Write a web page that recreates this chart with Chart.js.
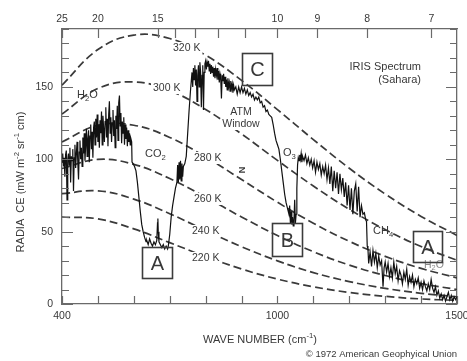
<!DOCTYPE html>
<html>
<head>
<meta charset="utf-8">
<script src="https://cdn.jsdelivr.net/npm/chart.js@4.4.1/dist/chart.umd.min.js"></script>
<style>
  html, body { margin: 0; padding: 0; background: #fff; }
  canvas { display: block; }
</style>
</head>
<body>
<canvas id="chart" width="467" height="361"></canvas>
<script>
// ---- Data -------------------------------------------------------------
// Wave numbers (cm^-1) of the blackbody reference curves
const planckWaveNumber = [400, 500, 600, 700, 800, 900, 1000, 1100, 1200, 1300, 1400, 1500];
// Blackbody radiance (mW m^-2 sr^-1 cm) for each temperature
const bb320 = [151.2, 175.8, 185.8, 183.4, 171.9, 154.5, 134.3, 113.6, 93.8, 76.0, 60.5, 47.4];
const bb300 = [131.2, 148.9, 153.4, 147.4, 134.4, 117.5, 99.2, 81.5, 65.4, 51.4, 39.7, 30.2];
const bb280 = [111.9, 123.5, 123.5, 115.1, 101.6, 86.0, 70.3, 55.8, 43.3, 32.9, 24.6, 18.1];
const bb260 = [93.6, 99.9, 96.5, 86.7, 73.8, 60.1, 47.3, 36.1, 26.9, 19.7, 14.1, 10.0];
const bb240 = [76.2, 78.2, 72.5, 62.4, 50.8, 39.6, 29.8, 21.7, 15.5, 10.8, 7.4, 5.0];
const bb220 = [60.1, 58.8, 51.9, 42.4, 32.8, 24.2, 17.2, 11.9, 8.0, 5.3, 3.5, 2.5];
const temperatureLabels = ['320 K', '300 K', '280 K', '260 K', '240 K', '220 K'];

// IRIS measured spectrum over the Sahara
const specWaveNumber = [
  400,402,404,406,408,410,412,414,416,418,420,422,424,426,428,430,432,434,436,438,
  440,442,444,446,448,450,452,454,456,458,460,462,464,466,468,470,472,474,476,478,
  480,482,484,486,488,490,492,494,496,498,500,502,504,506,508,510,512,514,516,518,
  520,522,524,526,528,530,532,534,536,538,540,542,544,546,548,550,552,554,556,558,
  560,562,564,566,568,570,572,574,576,578,580,582,584,586,588,590,592,594,595,598,
  602,606,610,614,618,622,626,630,634,636,640,644,648,652,656,660,664,666,667,668,
  670,674,678,682,686,690,694,696,700,704,708,712,716,720,722,724,726,728,730,732,
  734,736,738,742,746,750,754,758,762,764,766,768,770,772,774,776,778,780,782,784,
  786,788,790,792,794,796,798,800,802,804,806,808,810,812,814,816,818,820,822,824,
  826,828,830,832,834,836,838,840,842,844,846,848,850,852,854,856,858,860,862,864,
  866,868,870,872,874,876,878,880,884,888,892,896,900,904,908,912,916,920,924,928,
  932,936,940,944,948,952,956,960,964,968,972,976,980,984,988,992,996,1000,1004,1008,
  1012,1016,1020,1024,1028,1032,1034,1036,1038,1040,1042,1044,1046,1048,1050,1052,1054,1056,1058,1060,
  1062,1064,1066,1068,1070,1074,1078,1082,1086,1090,1094,1098,1102,1106,1110,1114,1118,1122,1126,1130,
  1134,1138,1142,1146,1150,1154,1158,1162,1166,1170,1174,1178,1182,1186,1190,1194,1198,1202,1206,1210,
  1214,1218,1222,1226,1230,1234,1238,1242,1246,1248,1250,1252,1254,1258,1262,1266,1270,1274,1278,1282,
  1286,1290,1294,1297,1300,1304,1308,1312,1316,1320,1324,1328,1332,1336,1340,1344,1348,1352,1356,1360,
  1364,1368,1372,1376,1380,1384,1388,1392,1396,1400,1404,1408,1412,1416,1420,1424,1428,1432,1436,1440,
  1444,1448,1452,1456,1460,1464,1468,1472,1476,1480,1484,1488,1492,1496,1500
];
const specRadiance = [
  98,104,95,101,88,103,106,72,100,104,96,108,84,102,99,107,78,101,110,94,
  104,112,98,86,105,113,100,108,95,115,104,118,99,110,121,102,114,120,98,116,
  124,107,119,101,122,126,110,128,115,131,112,124,108,127,118,133,110,130,121,112,
  126,136,115,128,109,131,140,118,129,112,125,134,116,127,108,130,121,137,113,139,
  144,123,132,111,126,118,129,110,124,114,122,109,120,112,118,110,114,112,98,97,
  95,92,84,74,64,55,50,46,43,44,41,45,42,40,43,41,44,56,59,50,
  43,41,39,41,38,40,38,40,48,60,68,74,80,84,96,84,98,86,99,85,
  97,88,95,97,102,118,134,148,160,150,163,155,165,151,162,140,158,165,150,167,
  160,136,158,165,134,160,166,168,162,167,164,168,161,166,159,165,160,164,157,163,
  156,162,158,163,155,161,153,159,156,142,158,154,159,152,157,150,155,148,156,150,
  153,147,154,149,152,146,151,148,150,145,150,146,150,146,149,145,148,144,146,143,
  145,141,143,141,143,139,140,136,137,133,134,131,130,129,124,118,113,110,107,100,
  92,84,76,70,66,62,68,56,64,55,60,54,58,72,56,62,80,96,101,99,
  103,100,104,98,102,99,103,97,101,96,100,94,99,91,98,93,97,89,95,90,
  96,86,94,83,95,78,92,80,91,76,90,79,87,74,84,68,82,65,80,62,
  78,83,64,81,60,68,62,63,58,57,40,38,28,36,26,37,29,35,25,33,
  27,30,12,25,29,22,28,19,25,18,29,21,26,16,23,20,14,22,17,24,
  13,19,15,20,12,17,14,18,11,15,10,16,12,9,14,10,17,11,8,12,
  6,9,4,7,3,6,2,5,8,3,6,2,5,3,5
];

// Axis ticks
const xTickLabels = [400, 1000, 1500];
const yTickLabels = [0, 50, 100, 150];
const topMicronTicks = [25, 20, 15, 14, 13, 12, 11, 10, 9, 8, 7];
const topMicronLabels = [25, 20, 15, 10, 9, 8, 7];

// ---- Styling ----------------------------------------------------------
const FONT = "'Liberation Sans', Arial, Helvetica, sans-serif";
const TEXT = '#383838';
const FRAME = '#6a6a6a';
const CURVE = '#3a3a3a';

const toXY = (xs, ys) => xs.map((x, i) => ({ x, y: ys[i] }));

function planckDataset(values) {
  return {
    data: toXY(planckWaveNumber, values),
    borderColor: CURVE,
    borderWidth: 1.7,
    borderDash: [8, 4],
    tension: 0.4,
    pointRadius: 0,
    fill: false
  };
}

// Draws text made of runs, some of them sub- or superscripted
function richWidth(ctx, parts, size) {
  let w = 0;
  for (const p of parts) {
    ctx.font = `${p.sub || p.sup ? size * 0.7 : size}px ${FONT}`;
    w += ctx.measureText(p.t).width;
  }
  return w;
}
function drawRich(ctx, parts, x, y, size, align) {
  const w = richWidth(ctx, parts, size);
  let cx = align === 'center' ? x - w / 2 : align === 'right' ? x - w : x;
  ctx.textAlign = 'left';
  ctx.textBaseline = 'middle';
  for (const p of parts) {
    const s = p.sub || p.sup ? size * 0.7 : size;
    ctx.font = `${s}px ${FONT}`;
    const dy = p.sub ? size * 0.32 : p.sup ? -size * 0.36 : 0;
    ctx.fillText(p.t, cx, y + dy);
    cx += ctx.measureText(p.t).width;
  }
  return w;
}

// Inward tick marks on all four sides of the frame
const innerTicks = {
  id: 'innerTicks',
  afterDatasetsDraw(chart) {
    const { ctx, chartArea: a, scales } = chart;
    ctx.save();
    ctx.strokeStyle = FRAME;
    ctx.lineWidth = 1.2;
    ctx.beginPath();
    scales.y.ticks.forEach(t => {
      const py = Math.round(scales.y.getPixelForValue(t.value)) + 0.5;
      const len = t.value % 50 === 0 ? 11 : 7;
      ctx.moveTo(a.left, py); ctx.lineTo(a.left + len, py);
      ctx.moveTo(a.right, py); ctx.lineTo(a.right - len, py);
    });
    scales.x.ticks.forEach(t => {
      const px = Math.round(scales.x.getPixelForValue(t.value)) + 0.5;
      ctx.moveTo(px, a.bottom); ctx.lineTo(px, a.bottom - 8);
    });
    scales.xTop.ticks.forEach(t => {
      const px = Math.round(scales.xTop.getPixelForValue(t.value)) + 0.5;
      ctx.moveTo(px, a.top); ctx.lineTo(px, a.top + 9);
    });
    ctx.stroke();
    ctx.restore();
  }
};

// Curve labels, band labels, boxed letters and titles
const annotations = {
  id: 'annotations',
  afterDatasetsDraw(chart) {
    const { ctx } = chart;
    ctx.save();
    ctx.fillStyle = TEXT;

    // temperature labels sit on their curves over a white patch
    const tempPos = [[173, 48], [153, 88], [194, 158], [194, 199], [192, 231], [192, 258]];
    ctx.font = `10.5px ${FONT}`;
    temperatureLabels.forEach((lab, i) => {
      const [x, y] = tempPos[i];
      const w = ctx.measureText(lab).width;
      ctx.fillStyle = '#fff';
      ctx.fillRect(x - 2, y - 6, w + 4, 12);
      ctx.fillStyle = TEXT;
      ctx.textAlign = 'left';
      ctx.textBaseline = 'middle';
      ctx.fillText(lab, x, y);
    });

    // absorption band labels
    drawRich(ctx, [{ t: 'H' }, { t: '2', sub: true }, { t: 'O' }], 77, 95, 11, 'left');
    drawRich(ctx, [{ t: 'CO' }, { t: '2', sub: true }], 145, 154, 11, 'left');
    drawRich(ctx, [{ t: 'O' }, { t: '3', sub: true }], 283, 153, 11, 'left');
    drawRich(ctx, [{ t: 'CH' }, { t: '4', sub: true }], 373, 231, 11, 'left');

    ctx.font = `10.5px ${FONT}`;
    ctx.textAlign = 'center';
    ctx.textBaseline = 'middle';
    ['ATM', 'Window'].forEach((s, i) => {
      const w = ctx.measureText(s).width;
      ctx.fillStyle = '#fff';
      ctx.fillRect(241 - w / 2 - 1, 112 + i * 12 - 6, w + 2, 12);
      ctx.fillStyle = TEXT;
      ctx.fillText(s, 241, 112 + i * 12);
    });

    ctx.save();
    ctx.translate(241, 170);
    ctx.rotate(Math.PI / 2);
    ctx.font = `bold 9px ${FONT}`;
    ctx.fillText('N', 0, 0);
    ctx.restore();

    ctx.fillStyle = '#8a8a8a';
    drawRich(ctx, [{ t: 'H' }, { t: '2', sub: true }, { t: 'O' }], 424, 265, 10.5, 'left');
    ctx.fillStyle = TEXT;

    ctx.font = `11px ${FONT}`;
    ctx.textAlign = 'right';
    ctx.fillText('IRIS Spectrum', 421, 67);
    ctx.fillText('(Sahara)', 421, 80);

    // boxed letters
    const boxes = [['C', 242, 53, 30, 32], ['A', 142, 247, 30, 31], ['B', 272, 223, 30, 33], ['A', 413, 231, 29, 31]];
    ctx.strokeStyle = '#3c3c3c';
    ctx.lineWidth = 1.6;
    ctx.font = `20px ${FONT}`;
    ctx.textAlign = 'center';
    ctx.textBaseline = 'middle';
    boxes.forEach(([t, x, y, w, h]) => {
      ctx.strokeRect(x + 0.5, y + 0.5, w, h);
      ctx.fillText(t, x + w / 2 + 0.5, y + h / 2 + 1.5);
    });

    // axis titles
    drawRich(ctx, [{ t: 'WAVE NUMBER (cm' }, { t: '-1', sup: true }, { t: ')' }], 260, 340, 11, 'center');
    ctx.save();
    ctx.translate(21, 182);
    ctx.rotate(-Math.PI / 2);
    drawRich(ctx, [{ t: 'RADIA  CE (mW m' }, { t: '-2', sup: true }, { t: ' sr' }, { t: '-1', sup: true }, { t: ' cm)' }], 0, 0, 11, 'center');
    ctx.restore();

    ctx.font = `9.5px ${FONT}`;
    ctx.textAlign = 'right';
    ctx.textBaseline = 'middle';
    ctx.fillText('\u00A9 1972 American Geophyical Union', 457, 354);
    ctx.restore();
  }
};

const fixSize = (prop, size) => scale => {
  scale[prop] = size;
  scale.paddingLeft = 0; scale.paddingRight = 0;
  scale.paddingTop = 0; scale.paddingBottom = 0;
};

const tickFont = { family: FONT, size: 10.5 };

new Chart(document.getElementById('chart'), {
  type: 'line',
  data: {
    datasets: [
      {
        data: toXY(specWaveNumber, specRadiance),
        borderColor: '#111',
        borderWidth: 1.2,
        tension: 0,
        pointRadius: 0,
        fill: false
      },
      planckDataset(bb320),
      planckDataset(bb300),
      planckDataset(bb280),
      planckDataset(bb260),
      planckDataset(bb240),
      planckDataset(bb220)
    ]
  },
  options: {
    responsive: false,
    animation: false,
    devicePixelRatio: 1,
    layout: { padding: 0 },
    plugins: { legend: { display: false }, tooltip: { enabled: false } },
    scales: {
      x: {
        type: 'linear', position: 'bottom', min: 400, max: 1500,
        afterFit: fixSize('height', 57),
        grid: { display: true, drawOnChartArea: false, drawTicks: false },
        border: { display: true, color: FRAME, width: 1.3 },
        ticks: {
          stepSize: 100, autoSkip: false, maxRotation: 0, padding: 6,
          color: TEXT, font: tickFont,
          callback: v => xTickLabels.includes(v) ? String(v) : ''
        }
      },
      xTop: {
        type: 'linear', position: 'top', min: 400, max: 1500,
        afterFit: fixSize('height', 29),
        afterBuildTicks: s => { s.ticks = topMicronTicks.map(m => ({ value: 10000 / m })); },
        grid: { display: true, drawOnChartArea: false, drawTicks: false },
        border: { display: true, color: FRAME, width: 1.3 },
        ticks: {
          autoSkip: false, maxRotation: 0, padding: 4,
          color: TEXT, font: tickFont,
          callback: v => {
            const m = Math.round(10000 / v);
            return topMicronLabels.includes(m) ? String(m) : '';
          }
        }
      },
      y: {
        type: 'linear', position: 'left', min: 0, max: 190,
        afterFit: fixSize('width', 62),
        grid: { display: true, drawOnChartArea: false, drawTicks: false },
        border: { display: true, color: FRAME, width: 1.3 },
        ticks: {
          stepSize: 10, autoSkip: false, padding: 9,
          color: TEXT, font: tickFont,
          callback: v => yTickLabels.includes(v) ? String(v) : ''
        }
      },
      y2: {
        type: 'linear', position: 'right', min: 0, max: 190,
        afterFit: fixSize('width', 10),
        grid: { display: true, drawOnChartArea: false, drawTicks: false },
        border: { display: true, color: FRAME, width: 1.3 },
        ticks: { display: false, stepSize: 10 }
      }
    }
  },
  plugins: [innerTicks, annotations]
});
</script>
</body>
</html>
